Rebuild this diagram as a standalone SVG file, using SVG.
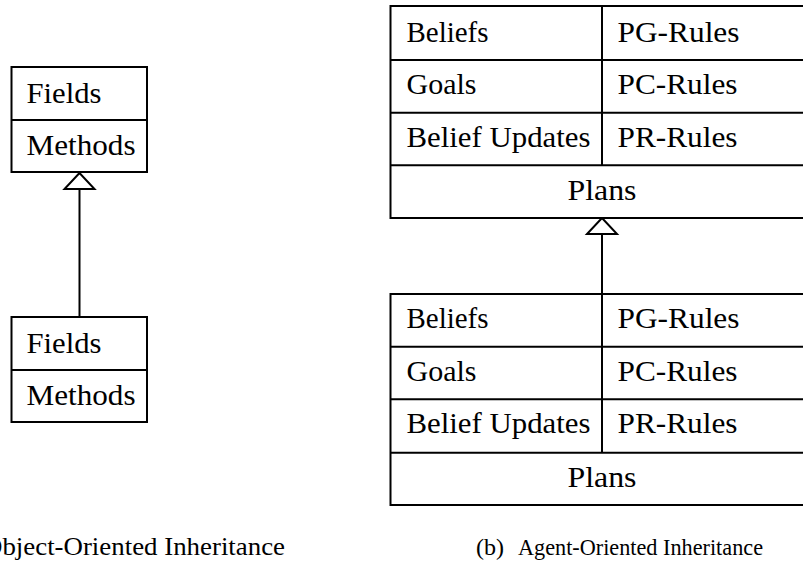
<svg xmlns="http://www.w3.org/2000/svg" width="803" height="566" viewBox="0 0 803 566">
  <style>
    .box { fill: #ffffff; stroke: #000000; stroke-width: 2; }
    .rule { stroke: #000000; stroke-width: 2; fill: none; }
    .t { font-size: 29px; fill: #000000; }
    .link { stroke: #000000; stroke-width: 2; fill: none; }
  </style>
  <defs>
    <!-- hollow triangle used for generalisation arrows -->
    <marker id="inherit" viewBox="-1 -1 18 32" refX="16" refY="15" markerWidth="18" markerHeight="32" markerUnits="userSpaceOnUse" orient="auto" overflow="visible">
      <path d="M16,15 L0,0 L0,30 Z" fill="#ffffff" stroke="#000000" stroke-width="2" stroke-linejoin="miter"/>
    </marker>
  </defs>

  <rect width="803" height="566" fill="#ffffff"/>

  <!-- connectors -->
  <g id="connectors">
    <path class="link" d="M79.5,317 L79.5,173" marker-end="url(#inherit)"/>
    <path class="link" d="M602,294 L602,218" marker-end="url(#inherit)"/>
  </g>

  <g font-family="Liberation Serif, DejaVu Serif, serif">
  <!-- (a) object-oriented classes -->
  <g id="oo-parent">
    <rect class="box" x="11.5" y="67" width="135.5" height="105"/>
    <line class="rule" x1="11.5" y1="120" x2="147" y2="120"/>
    <text class="t" x="26.5" y="103" textLength="75" lengthAdjust="spacingAndGlyphs">Fields</text>
    <text class="t" x="26.5" y="155" textLength="109" lengthAdjust="spacingAndGlyphs">Methods</text>
  </g>
  <g id="oo-child">
    <rect class="box" x="11.5" y="317" width="135.5" height="105"/>
    <line class="rule" x1="11.5" y1="370" x2="147" y2="370"/>
    <text class="t" x="26.5" y="353" textLength="75" lengthAdjust="spacingAndGlyphs">Fields</text>
    <text class="t" x="26.5" y="405" textLength="109" lengthAdjust="spacingAndGlyphs">Methods</text>
  </g>

  <!-- (b) agent-oriented agents -->
  <g id="ao-parent">
    <rect class="box" x="390.5" y="6" width="440" height="212"/>
    <line class="rule" x1="390.5" y1="60" x2="830" y2="60"/>
    <line class="rule" x1="390.5" y1="112.7" x2="830" y2="112.7"/>
    <line class="rule" x1="390.5" y1="165.3" x2="830" y2="165.3"/>
    <line class="rule" x1="602" y1="6" x2="602" y2="165.3"/>
    <text class="t" x="406.5" y="41.7" textLength="82" lengthAdjust="spacingAndGlyphs">Beliefs</text>
    <text class="t" x="617.5" y="41.7" textLength="122" lengthAdjust="spacingAndGlyphs">PG-Rules</text>
    <text class="t" x="406.5" y="94.3" textLength="70" lengthAdjust="spacingAndGlyphs">Goals</text>
    <text class="t" x="617.5" y="94.3" textLength="120" lengthAdjust="spacingAndGlyphs">PC-Rules</text>
    <text class="t" x="406.5" y="146.7" textLength="184" lengthAdjust="spacingAndGlyphs">Belief Updates</text>
    <text class="t" x="617.5" y="146.7" textLength="120" lengthAdjust="spacingAndGlyphs">PR-Rules</text>
    <text class="t" x="567.5" y="200" textLength="69" lengthAdjust="spacingAndGlyphs">Plans</text>
  </g>
  <g id="ao-child">
    <rect class="box" x="390.5" y="294" width="440" height="211"/>
    <line class="rule" x1="390.5" y1="346.7" x2="830" y2="346.7"/>
    <line class="rule" x1="390.5" y1="399.3" x2="830" y2="399.3"/>
    <line class="rule" x1="390.5" y1="452.7" x2="830" y2="452.7"/>
    <line class="rule" x1="602" y1="294" x2="602" y2="452.7"/>
    <text class="t" x="406.5" y="328.3" textLength="82" lengthAdjust="spacingAndGlyphs">Beliefs</text>
    <text class="t" x="617.5" y="328.3" textLength="122" lengthAdjust="spacingAndGlyphs">PG-Rules</text>
    <text class="t" x="406.5" y="381" textLength="70" lengthAdjust="spacingAndGlyphs">Goals</text>
    <text class="t" x="617.5" y="381" textLength="120" lengthAdjust="spacingAndGlyphs">PC-Rules</text>
    <text class="t" x="406.5" y="433.3" textLength="184" lengthAdjust="spacingAndGlyphs">Belief Updates</text>
    <text class="t" x="617.5" y="433.3" textLength="120" lengthAdjust="spacingAndGlyphs">PR-Rules</text>
    <text class="t" x="567.5" y="486.7" textLength="69" lengthAdjust="spacingAndGlyphs">Plans</text>
  </g>

  <!-- sub-figure captions -->
  <g id="captions" fill="#000000">
    <text x="-55" y="555" font-size="25">(a)</text>
    <text x="-17" y="555" font-size="25" textLength="302" lengthAdjust="spacingAndGlyphs">Object-Oriented Inheritance</text>
    <text x="476" y="555" font-size="24" textLength="28" lengthAdjust="spacingAndGlyphs">(b)</text>
    <text x="518" y="555" font-size="24" textLength="245" lengthAdjust="spacingAndGlyphs">Agent-Oriented Inheritance</text>
  </g>
  </g>
</svg>
